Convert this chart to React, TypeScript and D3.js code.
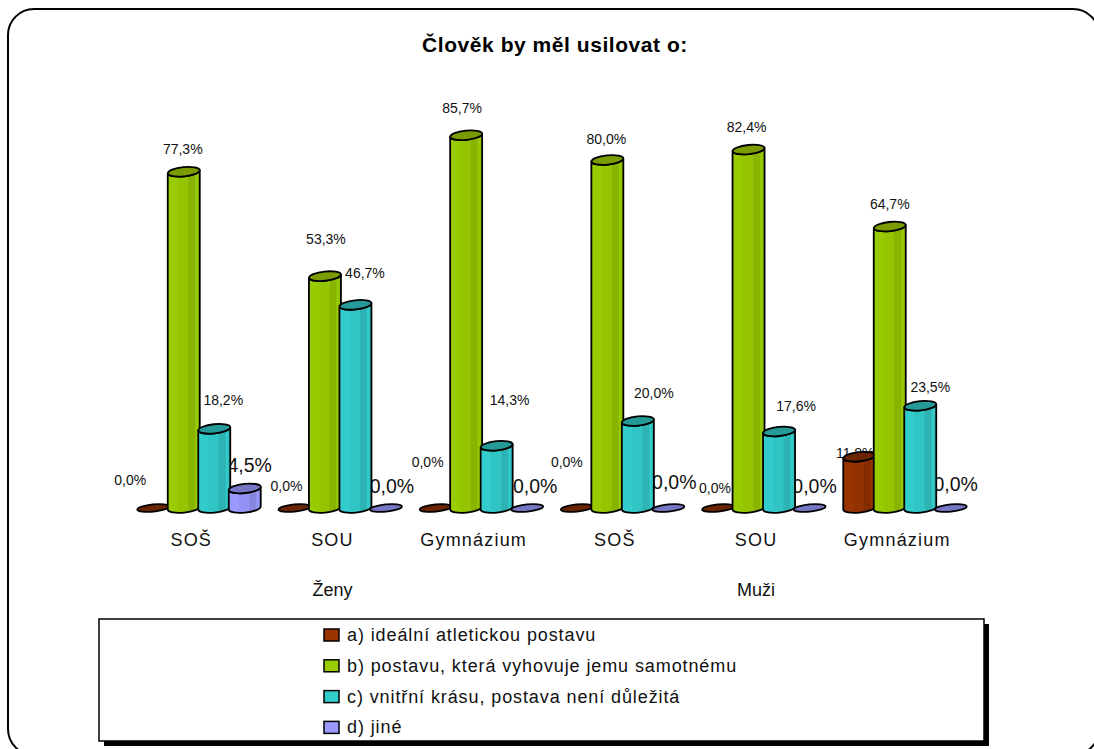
import React from "react";
import * as d3 from "d3";

const title = "Člověk by měl usilovat o:";
const categories = ["SOŠ", "SOU", "Gymnázium", "SOŠ", "SOU", "Gymnázium"];
const genders = ["Ženy", "Muži"];
const seriesNames = [
  "a) ideální atletickou postavu",
  "b) postavu, která vyhovuje jemu samotnému",
  "c) vnitřní krásu, postava není důležitá",
  "d) jiné",
];
const valuesA = [0, 0, 0, 0, 0, 11.8];
const valuesB = [77.3, 53.3, 85.7, 80.0, 82.4, 64.7];
const valuesC = [18.2, 46.7, 14.3, 20.0, 17.6, 23.5];
const valuesD = [4.5, 0, 0, 0, 0, 0];
const seriesValues = [valuesA, valuesB, valuesC, valuesD];

// Body shades of each cylinder: light, main, shaded; cap tone is separate.
const palette = [
  { light: "#993300", mid: "#933100", dark: "#842c00", cap: "#6b2400" },
  { light: "#99cc00", mid: "#94c500", dark: "#88b400", cap: "#7a9c00" },
  { light: "#33cccc", mid: "#31c4c4", dark: "#2db3b3", cap: "#269999" },
  { light: "#9999ff", mid: "#9393f5", dark: "#8686e0", cap: "#7676c4" },
];

// Hand placement of the data labels, relative to the top of each cylinder.
const labelOffsets = [
  [[-23, -28], [-1, -23], [9, -29], [5, -23]],
  [[-8, -22], [1, -37], [9.5, -32], [6, -22]],
  [[-8, -46], [-4, -27], [13, -46], [8, -22]],
  [[-10, -46], [-1, -21], [16, -28], [6, -26]],
  [[-3, -20], [-2, -22], [17, -25], [5, -22]],
  [[-4, -4], [0, -22], [10, -19], [5, -24]],
];

const font = "'Liberation Sans', Arial, sans-serif";
const RX = 16;
const RY = 4.6;
const TILT = -6;

const groupScale = d3
  .scaleBand<number>()
  .domain(d3.range(categories.length))
  .range([138, 138 + 141.2 * categories.length])
  .paddingInner(0)
  .paddingOuter(0);
const seriesScale = d3
  .scaleBand<number>()
  .domain(d3.range(seriesNames.length))
  .range([0, 122]);
const y = d3.scaleLinear().domain([0, 100]).range([508, 73]);

const centerX = (g: number, s: number) =>
  (groupScale(g) as number) + (seriesScale(s) as number) + seriesScale.bandwidth() / 2;

const fmt = (v: number) => v.toFixed(1).replace(".", ",") + "%";

function cylinderBody(cx: number, top: number, base: number) {
  const dy = RX * Math.sin((TILT * Math.PI) / 180);
  const xl = cx - RX;
  const xr = cx + RX;
  return [
    `M${xl},${top - dy}`,
    `A${RX},${RY} ${TILT} 0 0 ${xr},${top + dy}`,
    `L${xr},${base + dy}`,
    `A${RX},${RY} ${TILT} 0 1 ${xl},${base - dy}`,
    "Z",
  ].join(" ");
}

function Cylinder({ g, s, value }: { g: number; s: number; value: number }) {
  const cx = centerX(g, s);
  const top = y(value);
  const base = y(0);
  const p = palette[s];
  if (value === 0) {
    return (
      <ellipse
        cx={cx}
        cy={base}
        rx={RX}
        ry={RY - 1}
        transform={`rotate(${TILT} ${cx} ${base})`}
        fill={p.cap}
        stroke="#000"
        strokeWidth={1.8}
      />
    );
  }
  return (
    <g stroke="#000" strokeWidth={1.8} strokeLinejoin="round">
      <path d={cylinderBody(cx, top, base)} fill={`url(#body-${s})`} />
      <ellipse
        cx={cx}
        cy={top}
        rx={RX}
        ry={RY}
        transform={`rotate(${TILT} ${cx} ${top})`}
        fill={p.cap}
      />
    </g>
  );
}

export default function App() {
  return (
    <svg
      width={1094}
      height={749}
      viewBox="0 0 1094 749"
      style={{ position: "absolute", left: 0, top: 0, background: "#fff" }}
      fontFamily={font}
    >
      <defs>
        {palette.map((p, i) => (
          <linearGradient key={i} id={`body-${i}`} x1="0" x2="1" y1="0" y2="0">
            <stop offset="0" stopColor={p.light} />
            <stop offset="0.3" stopColor={p.light} />
            <stop offset="0.34" stopColor={p.mid} />
            <stop offset="0.62" stopColor={p.mid} />
            <stop offset="0.66" stopColor={p.dark} />
            <stop offset="0.84" stopColor={p.dark} />
            <stop offset="0.88" stopColor={p.light} />
            <stop offset="0.94" stopColor={p.mid} />
            <stop offset="1" stopColor={p.dark} />
          </linearGradient>
        ))}
      </defs>

      <rect x={8} y={9} width={1091} height={746} rx={26} ry={26} fill="#fff" stroke="#000" strokeWidth={2} />

      <text x={555} y={52} textAnchor="middle" fontSize={21} letterSpacing={0.55} fontWeight="bold" fill="#000">
        {title}
      </text>

      {/* Data labels sit behind the cylinders, which clip them where they overlap. */}
      {seriesValues.map((vals, s) =>
        vals.map((v, g) => (
          <text
            key={`${s}-${g}`}
            x={centerX(g, s) + labelOffsets[g][s][0]}
            y={y(v) + labelOffsets[g][s][1]}
            dy="0.35em"
            textAnchor="middle"
            fontSize={s === 3 ? 19.5 : 14}
            fill="#111"
          >
            {fmt(v)}
          </text>
        )),
      )}

      {categories.map((_, g) =>
        seriesValues.map((vals, s) => <Cylinder key={`${g}-${s}`} g={g} s={s} value={vals[g]} />),
      )}

      {categories.map((c, g) => (
        <text
          key={g}
          x={centerX(g, 0) + 38}
          y={546}
          textAnchor="middle"
          fontSize={18}
          letterSpacing={1.2}
          fill="#111"
        >
          {c}
        </text>
      ))}
      {genders.map((t, i) => (
        <text
          key={t}
          x={(centerX(i * 3, 0) + centerX(i * 3 + 2, 0)) / 2 + 38}
          y={596}
          textAnchor="middle"
          fontSize={18}
          fill="#111"
        >
          {t}
        </text>
      ))}

      {/* Legend box with a hard drop shadow */}
      <rect x={104} y={624} width={885} height={122} fill="#000" />
      <rect x={99} y={619} width={885} height={122} fill="#fff" stroke="#000" strokeWidth={1.5} />
      {seriesNames.map((name, i) => (
        <g key={name}>
          <rect
            x={324}
            y={629 + i * 30.8}
            width={15}
            height={12}
            fill={palette[i].light}
            stroke="#000"
            strokeWidth={1.5}
          />
          <text x={347} y={641 + i * 30.8} fontSize={18} letterSpacing={0.9} fill="#111">
            {name}
          </text>
        </g>
      ))}
    </svg>
  );
}
